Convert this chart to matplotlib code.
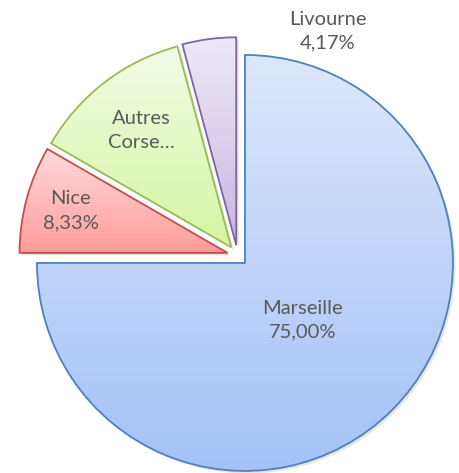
import numpy as np
import matplotlib
matplotlib.use('Agg')
import matplotlib.pyplot as plt
from matplotlib.colors import LinearSegmentedColormap

plt.rcParams['font.family'] = ['Lato', 'DejaVu Sans']

labels = ['Marseille', 'Nice', 'Autres\nCorse…', 'Livourne']
values = [75.00, 8.33, 12.50, 4.17]
pct_text = ['75,00%', '8,33%', '12,50%', '4,17%']
show_pct = [True, True, False, True]

tops = ['#dde7fb', '#ffdada', '#f3fbe6', '#eee9f7']
bottoms = ['#a3c2f7', '#ff9c9a', '#d5f6a2', '#c6b6e1']
edges = ['#4f81bd', '#c0504d', '#9bbb59', '#8064a2']

# label placement: fraction of radius and angle shift (deg) from slice bisector
lab_r = [0.39, 0.78, 0.71, 1.12]
lab_shift = [0, 0, 0, -30.7]

W, H = 460, 473
fig = plt.figure(figsize=(W / 100, H / 100), dpi=100)
ax = fig.add_axes([0, 0, 1, 1])

R = 208
cx, cy = 237.6, H - 255.6
expl = [0.05 * R] * 4   # pie explode is in data units

# shadow
sh, _ = ax.pie(values, startangle=90, counterclock=False, radius=R,
               center=(cx + 2.5, cy - 2.5), explode=expl,
               wedgeprops=dict(facecolor='#000000', alpha=0.10, linewidth=0),
               frame=True)
wedges, _ = ax.pie(values, startangle=90, counterclock=False, radius=R,
                   center=(cx, cy), explode=expl,
                   wedgeprops=dict(facecolor='none', linewidth=1.3),
                   frame=True)
ax.set_xlim(0, W)
ax.set_ylim(0, H)
ax.set_aspect('equal')
ax.axis('off')

for i, w in enumerate(wedges):
    w.set_edgecolor(edges[i])
    w.set_zorder(3)
    bb = w.get_path().get_extents(w.get_transform())
    inv = ax.transData.inverted()
    (x0, y0), (x1, y1) = inv.transform([[bb.x0, bb.y0], [bb.x1, bb.y1]])
    cmap = LinearSegmentedColormap.from_list('g%d' % i, [bottoms[i], tops[i]])
    grad = np.linspace(0, 1, 256).reshape(-1, 1)
    im = ax.imshow(grad, cmap=cmap, origin='lower', aspect='auto',
                   extent=[x0, x1, y0, y1], zorder=2)
    im.set_clip_path(w)

    mid = np.deg2rad((w.theta1 + w.theta2) / 2)
    wx, wy = w.center
    a = mid + np.deg2rad(lab_shift[i])
    tx = wx + lab_r[i] * R * np.cos(a)
    ty = wy + lab_r[i] * R * np.sin(a)
    txt = labels[i] + ('\n' + pct_text[i] if show_pct[i] else '')
    ax.text(tx, ty, txt, ha='center', va='center', fontsize=14.5,
            color='#595959', linespacing=1.5, zorder=5)

fig.savefig('out.png', dpi=100, facecolor='white')
